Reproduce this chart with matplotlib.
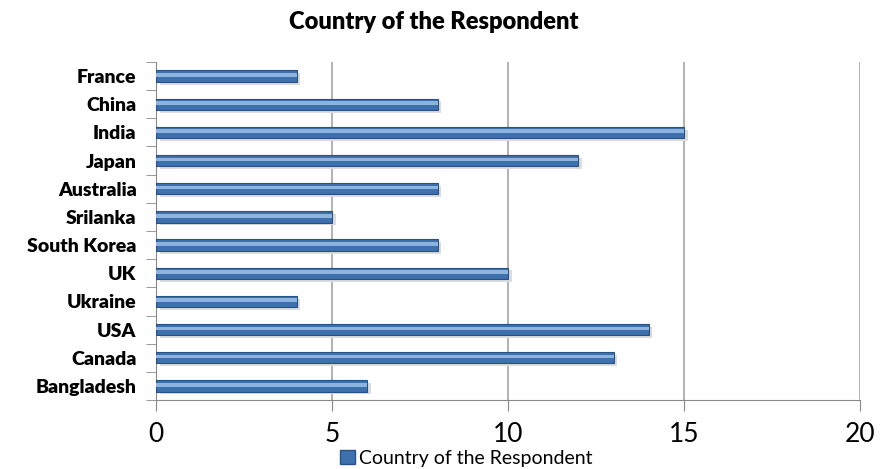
import matplotlib
matplotlib.use("Agg")
import matplotlib.pyplot as plt
import numpy as np
from matplotlib.patches import Patch

countries = ["France", "China", "India", "Japan", "Australia", "Srilanka",
             "South Korea", "UK", "Ukraine", "USA", "Canada", "Bangladesh"]
values = [4, 8, 15, 12, 8, 5, 8, 10, 4, 14, 13, 6]
series_name = "Country of the Respondent"
xticks = [0, 5, 10, 15, 20]

plt.rcParams['font.family'] = ['Lato', 'DejaVu Sans']

fig = plt.figure(figsize=(8.8, 4.69), dpi=100)
ax = fig.add_axes([156/880, 1 - 400/469, (860-156)/880, (400-62)/469])

y = np.arange(len(countries))[::-1]
# shadow
ax.barh(y - 0.1, values, height=0.4, left=0.1, color="#dcdcdc", zorder=2)
ax.barh(y, values, height=0.4, color="#3d70ad", edgecolor="#285286", linewidth=0.8, zorder=3)
ax.barh(y + 0.04, values, height=0.13, color="#8db3df", linewidth=0, zorder=4)

ax.set_xlim(0, 20)
ax.set_ylim(-0.5, len(countries) - 0.5)
ax.set_xticks(xticks)
ax.set_xticklabels([str(t) for t in xticks], fontsize=19)
ax.set_yticks(y)
ax.set_yticklabels(countries, fontsize=14, fontweight="heavy")
ax.set_yticks(np.arange(-0.5, len(countries), 1), minor=True)
ax.tick_params(axis="y", which="major", length=0, pad=14)
ax.tick_params(axis="y", which="minor", length=7, color="#888888", direction="out")
ax.tick_params(axis="x", length=8, color="#888888", pad=8, direction="out")
ax.grid(axis="x", color="#a6a6a6", linewidth=1.2, zorder=0)
ax.set_axisbelow(True)
for s in ["top", "right"]:
    ax.spines[s].set_visible(False)
ax.spines["left"].set_color("#888888")
ax.spines["bottom"].set_color("#888888")

fig.text(0.493, 1 - 22/469, series_name, ha="center", va="center", fontsize=17, fontweight="heavy")
fig.legend(handles=[Patch(facecolor="#3d70ad", edgecolor="#285286", label=series_name)],
           loc="center", bbox_to_anchor=(0.53, 1 - 458/469), frameon=False, fontsize=14,
           handlelength=0.75, handleheight=0.75, handletextpad=0.2, borderpad=0)

fig.savefig("out.png", dpi=100)
